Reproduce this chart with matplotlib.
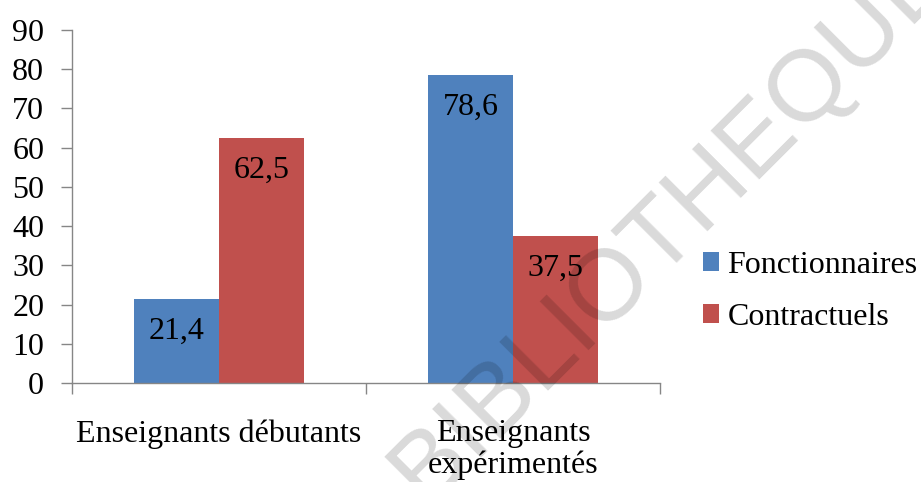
import matplotlib
matplotlib.use("Agg")
import matplotlib.pyplot as plt
import numpy as np

# Données
categories = ["Enseignants débutants", "Enseignants\nexpérimentés"]
series_names = ["Fonctionnaires", "Contractuels"]
fonctionnaires = [21.4, 78.6]
contractuels = [62.5, 37.5]
y_ticks = [0, 10, 20, 30, 40, 50, 60, 70, 80, 90]

colors = ["#4F81BD", "#C0504D"]
axis_gray = "#868686"

plt.rcParams["font.family"] = ["Liberation Serif", "DejaVu Serif"]

fig = plt.figure(figsize=(9.21, 4.82), dpi=100)
ax = fig.add_axes([0.0782, 0.2054, 0.6384, 0.7324])

x = np.arange(len(categories))
width = 0.289
bars_f = ax.bar(x - width / 2, fonctionnaires, width, color=colors[0], label=series_names[0])
bars_c = ax.bar(x + width / 2, contractuels, width, color=colors[1], label=series_names[1])

# Valeurs à l'intérieur du haut des barres
for bars, vals in ((bars_f, fonctionnaires), (bars_c, contractuels)):
    for b, v in zip(bars, vals):
        ax.annotate(f"{v:.1f}".replace(".", ","),
                    xy=(b.get_x() + b.get_width() / 2, v),
                    xytext=(0, -13), textcoords="offset points",
                    ha="center", va="top", fontsize=23, color="black")

ax.set_xlim(-0.5, len(categories) - 0.5)
ax.set_ylim(0, 90)
ax.set_yticks(y_ticks)
ax.set_yticklabels([str(t) for t in y_ticks], fontsize=23)

# Graduations de l'axe X aux limites des catégories
ax.set_xticks(np.arange(-0.5, len(categories), 1.0))
ax.set_xticklabels([])
ax.set_xticks(x, minor=True)
ax.set_xticklabels(categories, minor=True, fontsize=23, linespacing=1.12)
ax.tick_params(axis="x", which="minor", length=0, pad=26)
ax.tick_params(axis="x", which="major", length=8, width=1, color=axis_gray, direction="out")
ax.tick_params(axis="y", length=8, width=1, color=axis_gray, direction="out", pad=12)

for side in ("top", "right"):
    ax.spines[side].set_visible(False)
for side in ("left", "bottom"):
    ax.spines[side].set_color(axis_gray)
    ax.spines[side].set_linewidth(1)

fig.legend(handles=[bars_f, bars_c], labels=series_names,
           loc="center left", bbox_to_anchor=(0.763, 0.396),
           frameon=False, fontsize=23, handlelength=0.52, handleheight=0.52,
           handletextpad=0.25, labelspacing=0.72, borderaxespad=0, borderpad=0)

# Filigrane
fig.text(0.7297, 0.5394, "BIBLIOTHEQUE", family="Liberation Sans", fontsize=73,
         color="black", alpha=0.15, rotation=45, rotation_mode="anchor",
         ha="center", va="center", zorder=10)

fig.savefig("out.png", dpi=100)
